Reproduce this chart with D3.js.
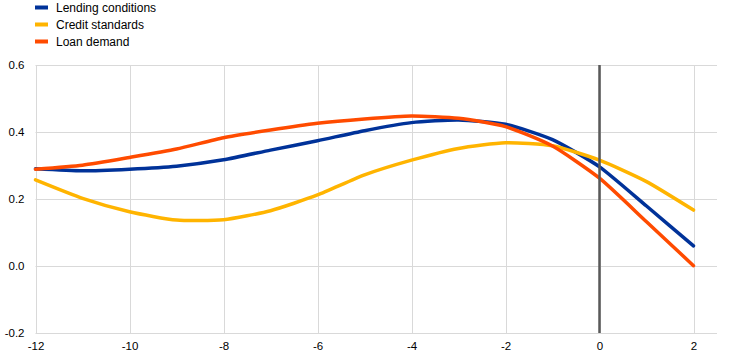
<!DOCTYPE html>
<html>
<head>
<meta charset="utf-8">
<script src="https://cdn.jsdelivr.net/npm/d3@7"></script>
<style>
  body { margin: 0; background: #fff; }
  svg { display: block; font-family: "Liberation Sans", Arial, sans-serif; }
</style>
</head>
<body>
<svg id="chart" width="742" height="359"></svg>
<script>
const quarters = [-12, -11, -10, -9, -8, -7, -6, -5, -4, -3, -2, -1, 0, 1, 2];
const lendingConditions = [0.290, 0.284, 0.289, 0.298, 0.317, 0.346, 0.374, 0.404, 0.428, 0.436, 0.423, 0.377, 0.296, 0.179, 0.060];
const creditStandards   = [0.257, 0.202, 0.162, 0.137, 0.138, 0.165, 0.212, 0.272, 0.316, 0.351, 0.368, 0.359, 0.316, 0.252, 0.167];
const loanDemand        = [0.289, 0.301, 0.324, 0.349, 0.383, 0.406, 0.426, 0.439, 0.448, 0.441, 0.416, 0.358, 0.262, 0.132, 0.001];
const seriesNames = ["Lending conditions", "Credit standards", "Loan demand"];
const seriesColors = ["#003299", "#FFB400", "#FF4B00"];
const xTicks = [-12, -10, -8, -6, -4, -2, 0, 2];
const yTicks = [-0.2, 0.0, 0.2, 0.4, 0.6];

const series = [lendingConditions, creditStandards, loanDemand];

const svg = d3.select("#chart");
const pLeft = 35.5, pRight = 717, pTop = 65, pBottom = 333;

const x = d3.scaleLinear().domain([-12, 2]).range([pLeft, pLeft + (693.3 - 35.3)]);
const y = d3.scaleLinear().domain([-0.2, 0.6]).range([pBottom, pTop]);

// grid
const grid = svg.append("g");
grid.selectAll("line.h").data(yTicks).enter().append("line")
  .attr("x1", pLeft).attr("x2", pRight)
  .attr("y1", d => Math.round(y(d)) + 0.5).attr("y2", d => Math.round(y(d)) + 0.5)
  .attr("stroke", "#d9d9d9").attr("stroke-width", 1);
grid.selectAll("line.v").data(xTicks).enter().append("line")
  .attr("y1", pTop).attr("y2", pBottom)
  .attr("x1", d => Math.round(x(d)) + 0.5).attr("x2", d => Math.round(x(d)) + 0.5)
  .attr("stroke", "#d9d9d9").attr("stroke-width", 1);

// axes labels
const fmtY = d => d.toFixed(1).replace("\u2212", "-");
const yAxis = d3.axisLeft(y).tickValues(yTicks).tickFormat(fmtY).tickSize(0).tickPadding(11);
const gy = svg.append("g").attr("transform", `translate(${pLeft},0)`).call(yAxis);
gy.select(".domain").remove();
gy.selectAll("text").attr("font-size", "11.5px").attr("fill", "#000").attr("font-family", "Liberation Sans, Arial, sans-serif");

const xAxis = d3.axisBottom(x).tickValues(xTicks).tickFormat(d => String(d)).tickSize(0).tickPadding(9);
const gx = svg.append("g").attr("transform", `translate(0,${pBottom})`).call(xAxis);
gx.select(".domain").remove();
gx.selectAll("text").attr("font-size", "11.5px").attr("fill", "#000").attr("font-family", "Liberation Sans, Arial, sans-serif");

// lines
const line = d3.line()
  .x((d, i) => x(quarters[i]))
  .y(d => y(d))
  .curve(d3.curveCardinal.tension(0.4));

svg.append("g").selectAll("path").data(series).enter().append("path")
  .attr("d", d => line(d))
  .attr("fill", "none")
  .attr("stroke", (d, i) => seriesColors[i])
  .attr("stroke-width", 3.5)
  .attr("stroke-linejoin", "round")
  .attr("stroke-linecap", "round");

// vertical line at 0
svg.append("line")
  .attr("x1", x(0)).attr("x2", x(0))
  .attr("y1", pTop).attr("y2", pBottom)
  .attr("stroke", "#595959").attr("stroke-width", 2.5);

// legend
const legend = svg.append("g");
seriesNames.forEach((name, i) => {
  const yy = 7.5 + i * 17;
  legend.append("rect")
    .attr("x", 35).attr("y", yy - 2).attr("width", 13).attr("height", 4)
    .attr("fill", seriesColors[i]);
  legend.append("text")
    .attr("x", 56).attr("y", yy).attr("dy", "0.35em")
    .attr("font-size", "12px").attr("fill", "#000")
    .text(name);
});
</script>
</body>
</html>
